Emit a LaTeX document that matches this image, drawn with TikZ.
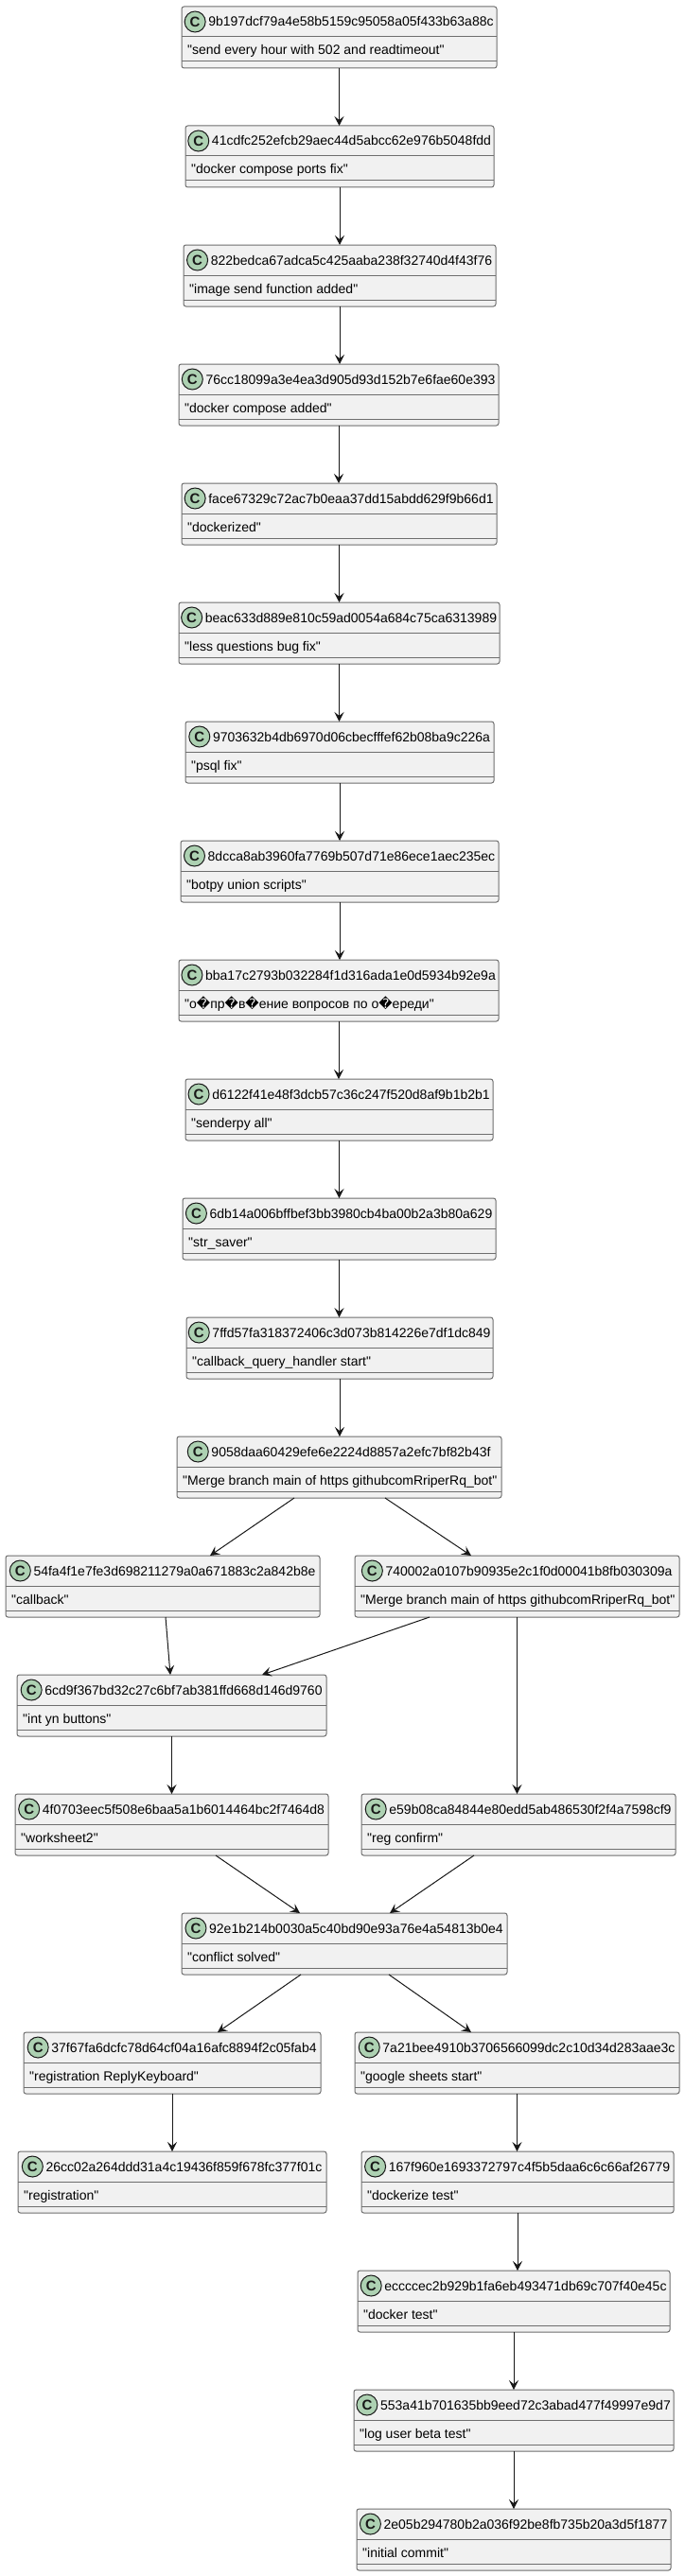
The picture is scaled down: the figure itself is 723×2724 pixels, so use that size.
\documentclass[tikz,border=0pt]{standalone}
\usepackage{fontspec}
\setmainfont{Liberation Sans}[Ligatures=TeXOff]
\newfontfamily\dejavu{DejaVu Sans}
\usetikzlibrary{arrows.meta,calc}
\definecolor{boxfill}{HTML}{F1F1F1}
\definecolor{boxline}{HTML}{6E6E6E}
\definecolor{spotfill}{HTML}{ADD1B2}
\definecolor{spotline}{HTML}{181818}
\definecolor{linecol}{HTML}{181818}
\newcommand\fs{\fontsize{14}{16}\selectfont}
\newcommand\spotfont{\fontsize{15}{15}\selectfont\bfseries}
\newcommand\repch{{\dejavu\symbol{"FFFD}}}
\tikzset{
  cbox/.style={draw=boxline, fill=boxfill, rounded corners=2.5pt, line width=1pt, inner sep=0pt, outer sep=0pt, minimum height=65pt},
  sepline/.style={draw=boxline, line width=1pt},
  hashtxt/.style={inner sep=0pt, font=\fs, text=black, anchor=base},
  msgtxt/.style={inner sep=0pt, font=\fs, text=black, anchor=base west},
  spot/.style={circle, draw=spotline, fill=spotfill, line width=1pt, minimum size=22pt, inner sep=0pt, font=\spotfont, text=spotline},
  arr/.style={draw=linecol, line width=1pt, -{Stealth[length=10pt,width=10pt,inset=4pt]}}
}
% name, left, right, top, hash, message
\newcommand\commit[6]{%
  \node[cbox, minimum width={#3-#2}] (#1) at ({(#2+#3)/2},{#4+32.5}) {};
  \draw[sepline] ([yshift=-32pt]#1.north west) -- ([yshift=-32pt]#1.north east);
  \draw[sepline] ([yshift=-58pt]#1.north west) -- ([yshift=-58pt]#1.north east);
  \coordinate (#1s) at ({(#2+#3)/2},{#4+16});
  \node[hashtxt] (#1h) at ([xshift=12.5pt,yshift=-5pt]#1s) {#5};
  \coordinate (#1w) at ([xshift=-14pt]#1h.west);
  \node[spot] (#1c) at (#1w |- #1s) {C};
  \node[msgtxt] (#1m) at ({#2+6},{#4+51}) {#6};
}
\begin{document}
\begin{tikzpicture}[x=1pt,y=-1pt]
\useasboundingbox (0,0) rectangle (723,2724);
\fill[white] (0,0) rectangle (723,2724);

\commit{n1}{192}{525}{7}{9b197dcf79a4e58b5159c95058a05f433b63a88c}{"send every hour with 502 and readtimeout"}
\commit{n2}{196}{522}{133}{41cdfc252efcb29aec44d5abcc62e976b5048fdd}{"docker compose ports fix"}
\commit{n3}{194}{524}{259}{822bedca67adca5c425aaba238f32740d4f43f76}{"image send function added"}
\commit{n4}{189}{527}{385}{76cc18099a3e4ea3d905d93d152b7e6fae60e393}{"docker compose added"}
\commit{n5}{192}{525}{511}{face67329c72ac7b0eaa37dd15abdd629f9b66d1}{"dockerized"}
\commit{n6}{189}{528}{637}{beac633d889e810c59ad0054a684c75ca6313989}{"less questions bug fix"}
\commit{n7}{196}{522}{763}{9703632b4db6970d06cbecfffef62b08ba9c226a}{"psql fix"}
\commit{n8}{191}{527}{889}{8dcca8ab3960fa7769b507d71e86ece1aec235ec}{"botpy union scripts"}
\commit{n9}{189}{527}{1015}{bba17c2793b032284f1d316ada1e0d5934b92e9a}{"о\repch пр\repch в\repch ение вопросов по о\repch ереди"}
\commit{n10}{196}{521}{1141}{d6122f41e48f3dcb57c36c247f520d8af9b1b2b1}{"senderpy all"}
\commit{n11}{193}{524}{1267}{6db14a006bffbef3bb3980cb4ba00b2a3b80a629}{"str\_saver"}
\commit{n12}{197}{521}{1393}{7ffd57fa318372406c3d073b814226e7df1dc849}{"callback\_query\_handler start"}
\commit{n13}{187}{530}{1519}{9058daa60429efe6e2224d8857a2efc7bf82b43f}{"Merge branch main of https githubcomRriperRq\_bot"}
\commit{n14a}{6}{338}{1645}{54fa4f1e7fe3d698211279a0a671883c2a842b8e}{"callback"}
\commit{n14b}{375}{718}{1645}{740002a0107b90935e2c1f0d00041b8fb030309a}{"Merge branch main of https githubcomRriperRq\_bot"}
\commit{n15}{18}{345}{1771}{6cd9f367bd32c27c6bf7ab381ffd668d146d9760}{"int yn buttons"}
\commit{n16a}{16}{347}{1897}{4f0703eec5f508e6baa5a1b6014464bc2f7464d8}{"worksheet2"}
\commit{n16b}{382}{714}{1897}{e59b08ca84844e80edd5ab486530f2f4a7598cf9}{"reg confirm"}
\commit{n17}{192}{536}{2023}{92e1b214b0030a5c40bd90e93a76e4a54813b0e4}{"conflict solved"}
\commit{n18a}{25}{339}{2149}{37f67fa6dcfc78d64cf04a16afc8894f2c05fab4}{"registration ReplyKeyboard"}
\commit{n18b}{375}{718}{2149}{7a21bee4910b3706566099dc2c10d34d283aae3c}{"google sheets start"}
\commit{n19a}{19}{345}{2275}{26cc02a264ddd31a4c19436f859f678fc377f01c}{"registration"}
\commit{n19b}{382}{712}{2275}{167f960e1693372797c4f5b5daa6c6c66af26779}{"dockerize test"}
\commit{n20}{378}{708}{2401}{eccccec2b929b1fa6eb493471db69c707f40e45c}{"docker test"}
\commit{n21}{374}{712}{2527}{553a41b701635bb9eed72c3abad477f49997e9d7}{"log user beta test"}
\commit{n22}{377}{709}{2653}{2e05b294780b2a036f92be8fb735b20a3d5f1877}{"initial commit"}

% straight chain
\foreach \a/\b in {n1/n2,n2/n3,n3/n4,n4/n5,n5/n6,n6/n7,n7/n8,n8/n9,n9/n10,n10/n11,n11/n12,n12/n13,
                   n14b/n16b,n15/n16a,n18a/n19a,n18b/n19b,n19b/n20,n20/n21,n21/n22}
  \draw[arr] (\a.south) -- (\a.south |- \b.north);

% branches
\draw[arr] ([xshift=-47.5pt]n13.south) -- ([xshift=50pt]n14a.north);
\draw[arr] ([xshift=48.5pt]n13.south) -- ([xshift=-48.5pt]n14b.north);
\draw[arr] ([xshift=3pt]n14a.south) -- ([xshift=-1.5pt]n15.north);
\draw[arr] ([xshift=-92.5pt]n14b.south) -- ([xshift=95.5pt]n15.north);
\draw[arr] ([xshift=46.5pt]n16a.south) -- ([xshift=-47pt]n17.north);
\draw[arr] ([xshift=-47pt]n16b.south) -- ([xshift=48pt]n17.north);
\draw[arr] ([xshift=-46pt]n17.south) -- ([xshift=48pt]n18a.north);
\draw[arr] ([xshift=47pt]n17.south) -- ([xshift=-48.5pt]n18b.north);
\end{tikzpicture}
\end{document}
